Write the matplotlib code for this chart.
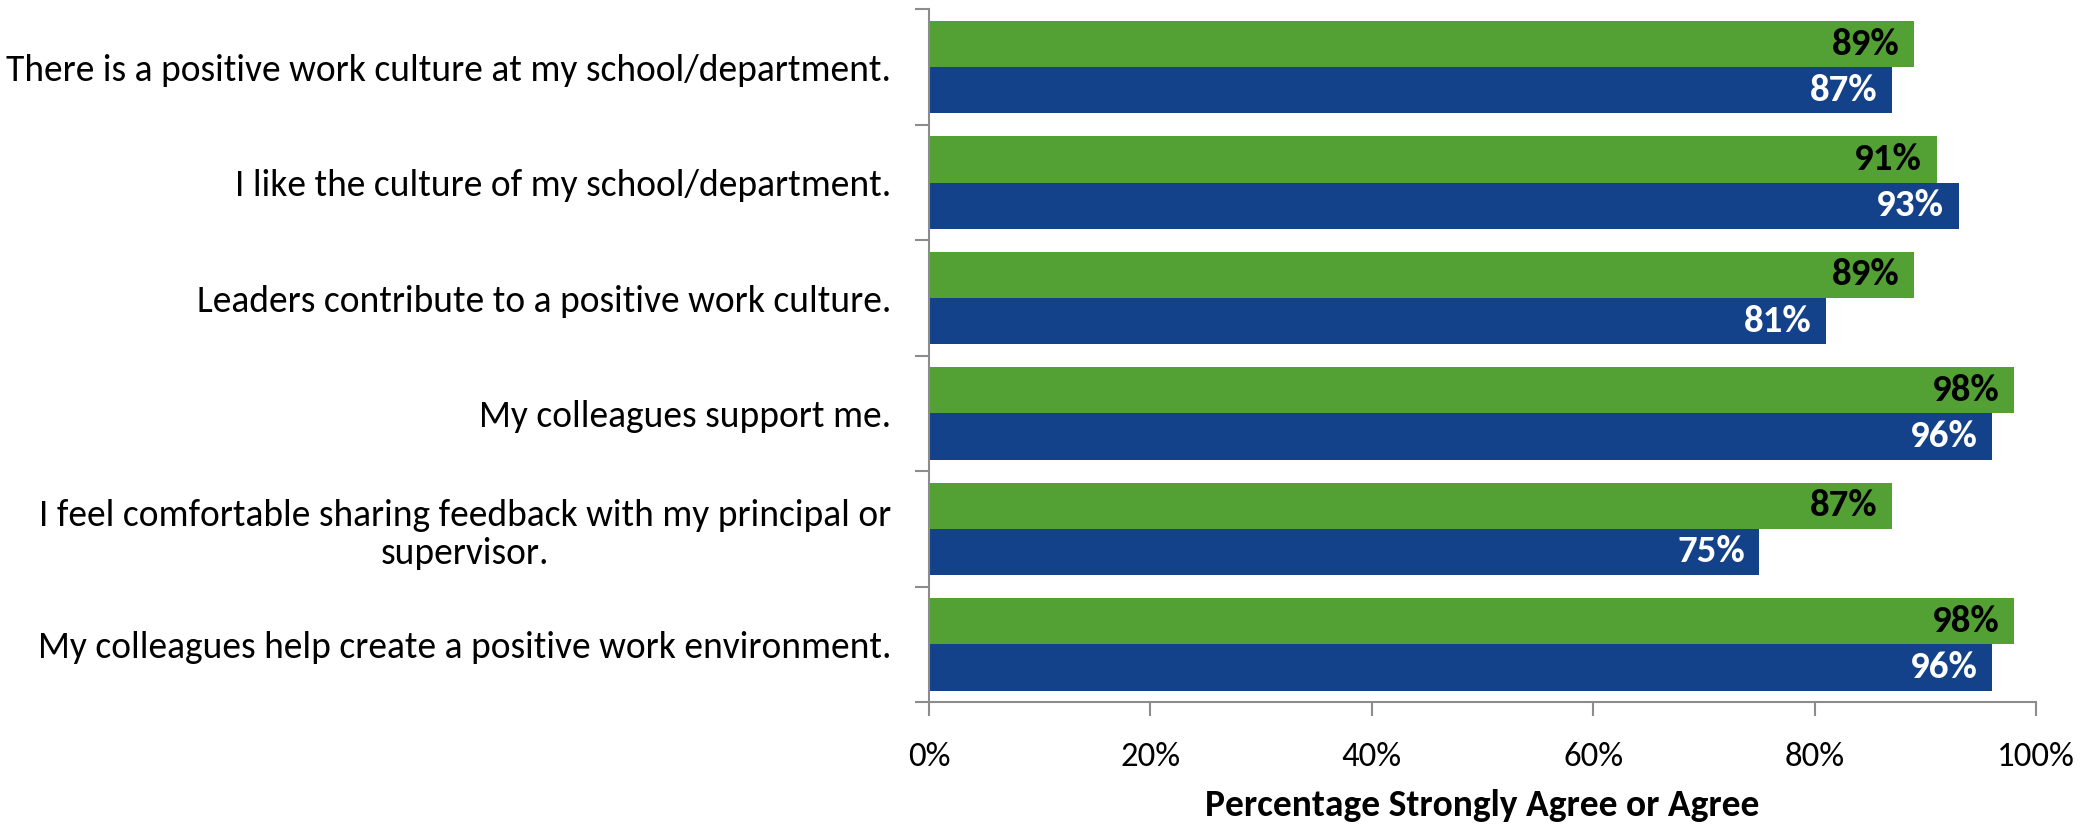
import matplotlib.pyplot as plt
import numpy as np

plt.rcParams['font.family'] = ['Carlito', 'Liberation Sans Narrow', 'DejaVu Sans']

questions = [
    "There is a positive work culture at my school/department.",
    "I like the culture of my school/department.",
    "Leaders contribute to a positive work culture.",
    "My colleagues support me.",
    "I feel comfortable sharing feedback with my principal or\nsupervisor.",
    "My colleagues help create a positive work environment.",
]
green_vals = [89, 91, 89, 98, 87, 98]
blue_vals = [87, 93, 81, 96, 75, 96]

green = '#53A035'
blue = '#13418A'
grey = '#8C8C8C'

fig = plt.figure(figsize=(20.97, 8.25), dpi=100)
ax = fig.add_axes([0.443, 0.149, 0.528, 0.8396])

n = len(questions)
y = np.arange(n)
h = 0.4
ax.barh(y - h/2, green_vals, height=h, color=green)
ax.barh(y + h/2, blue_vals, height=h, color=blue)

for i in range(n):
    ax.text(green_vals[i] - 1.3, y[i] - h/2, str(green_vals[i]) + "%", ha='right', va='center',
            fontsize=28, fontweight='bold', color='black')
    ax.text(blue_vals[i] - 1.3, y[i] + h/2, str(blue_vals[i]) + "%", ha='right', va='center',
            fontsize=28, fontweight='bold', color='white')

ax.set_ylim(n - 0.5, -0.5)
ax.set_xlim(0, 100)

ax.set_yticks(np.arange(n + 1) - 0.5)
ax.set_yticklabels([])
ax.set_yticks(y, minor=True)
ax.set_yticklabels(questions, minor=True, fontsize=27, ha='right', multialignment='center',
                   linespacing=1.2)
ax.tick_params(axis='y', which='minor', length=0, pad=27)
ax.tick_params(axis='y', which='major', length=10, color=grey, width=1.5)

ax.set_xticks([0, 20, 40, 60, 80, 100])
ax.set_xticklabels([str(v) + "%" for v in [0, 20, 40, 60, 80, 100]], fontsize=25)
ax.tick_params(axis='x', length=10, color=grey, width=1.5, pad=19)

ax.set_xlabel("Percentage Strongly Agree or Agree", fontsize=27, fontweight='bold', labelpad=12)

for s in ['top', 'right']:
    ax.spines[s].set_visible(False)
for s in ['left', 'bottom']:
    ax.spines[s].set_color(grey)
    ax.spines[s].set_linewidth(1.5)

fig.savefig("out.png", dpi=100)
